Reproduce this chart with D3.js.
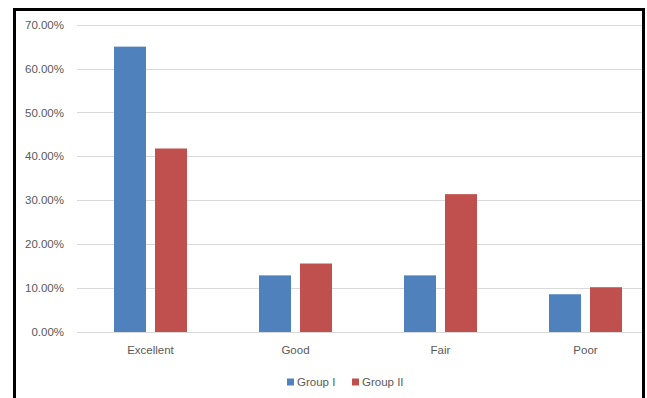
<!DOCTYPE html>
<html>
<head>
<meta charset="utf-8">
<script src="https://cdn.jsdelivr.net/npm/d3@7"></script>
<style>
  html, body { margin: 0; padding: 0; background: #fff; }
  svg { display: block; font-family: "Liberation Sans", Arial, sans-serif; }
</style>
</head>
<body>
<svg id="chart" width="647" height="398"></svg>
<script>
// Rating categories and the share of each group per rating (fraction)
const categories = ["Excellent", "Good", "Fair", "Poor"];
const seriesNames = ["Group I", "Group II"];
const groupI = [0.650, 0.129, 0.129, 0.086];
const groupII = [0.418, 0.156, 0.314, 0.102];
const yTicks = [0, 0.1, 0.2, 0.3, 0.4, 0.5, 0.6, 0.7];
const colors = ["#4F81BD", "#C0504D"];

const svg = d3.select("#chart");
const fontSize = 11.5;
const textColor = "#595959";

const plot = { left: 78, right: 658, top: 24.7, bottom: 332, clipRight: 642 };

const y = d3.scaleLinear().domain([0, 0.7]).range([plot.bottom, plot.top]);
const x0 = d3.scaleBand().domain(categories).range([plot.left, plot.right]).padding(0);
const barW = 32, barGap = 9;

// Gridlines
const fmt = d3.format(".2%");
svg.append("g")
  .selectAll("line")
  .data(yTicks)
  .join("line")
  .attr("x1", plot.left - 1)
  .attr("x2", plot.clipRight)
  .attr("y1", d => Math.round(y(d)) + 0.5)
  .attr("y2", d => Math.round(y(d)) + 0.5)
  .attr("stroke", "#d9d9d9")
  .attr("stroke-width", 1);

// Y axis labels
svg.append("g")
  .selectAll("text")
  .data(yTicks)
  .join("text")
  .attr("x", 64)
  .attr("y", d => y(d))
  .attr("dy", "0.35em")
  .attr("text-anchor", "end")
  .attr("font-size", fontSize)
  .attr("fill", textColor)
  .text(d => fmt(d));

// Bars, two per category
const rows = categories.map((c, i) => ({ cat: c, vals: [groupI[i], groupII[i]] }));
const groups = svg.append("g")
  .selectAll("g")
  .data(rows)
  .join("g")
  .attr("transform", d => `translate(${x0(d.cat) + x0.bandwidth() / 2},0)`);

groups.selectAll("rect")
  .data(d => d.vals.map((v, j) => ({ v, j })))
  .join("rect")
  .attr("x", d => d.j === 0 ? -(barW + barGap / 2) : barGap / 2)
  .attr("width", barW)
  .attr("y", d => y(d.v))
  .attr("height", d => plot.bottom - y(d.v))
  .attr("fill", d => colors[d.j]);

// Category labels
svg.append("g")
  .selectAll("text")
  .data(categories)
  .join("text")
  .attr("x", d => x0(d) + x0.bandwidth() / 2)
  .attr("y", 350)
  .attr("dy", "0.35em")
  .attr("text-anchor", "middle")
  .attr("font-size", fontSize)
  .attr("fill", textColor)
  .text(d => d);

// Legend
const legendItems = [
  { name: seriesNames[0], color: colors[0], x: 287 },
  { name: seriesNames[1], color: colors[1], x: 352 }
];
const lg = svg.append("g")
  .selectAll("g")
  .data(legendItems)
  .join("g")
  .attr("transform", d => `translate(${d.x},382)`);
lg.append("rect")
  .attr("x", 0).attr("y", -3.5)
  .attr("width", 7).attr("height", 7)
  .attr("fill", d => d.color);
lg.append("text")
  .attr("x", 10)
  .attr("y", 0)
  .attr("dy", "0.35em")
  .attr("font-size", fontSize)
  .attr("fill", textColor)
  .text(d => d.name);

// Frame
svg.append("rect")
  .attr("x", 14.5).attr("y", 9.5)
  .attr("width", 629).attr("height", 420)
  .attr("fill", "none")
  .attr("stroke", "#000")
  .attr("stroke-width", 3);
</script>
</body>
</html>
